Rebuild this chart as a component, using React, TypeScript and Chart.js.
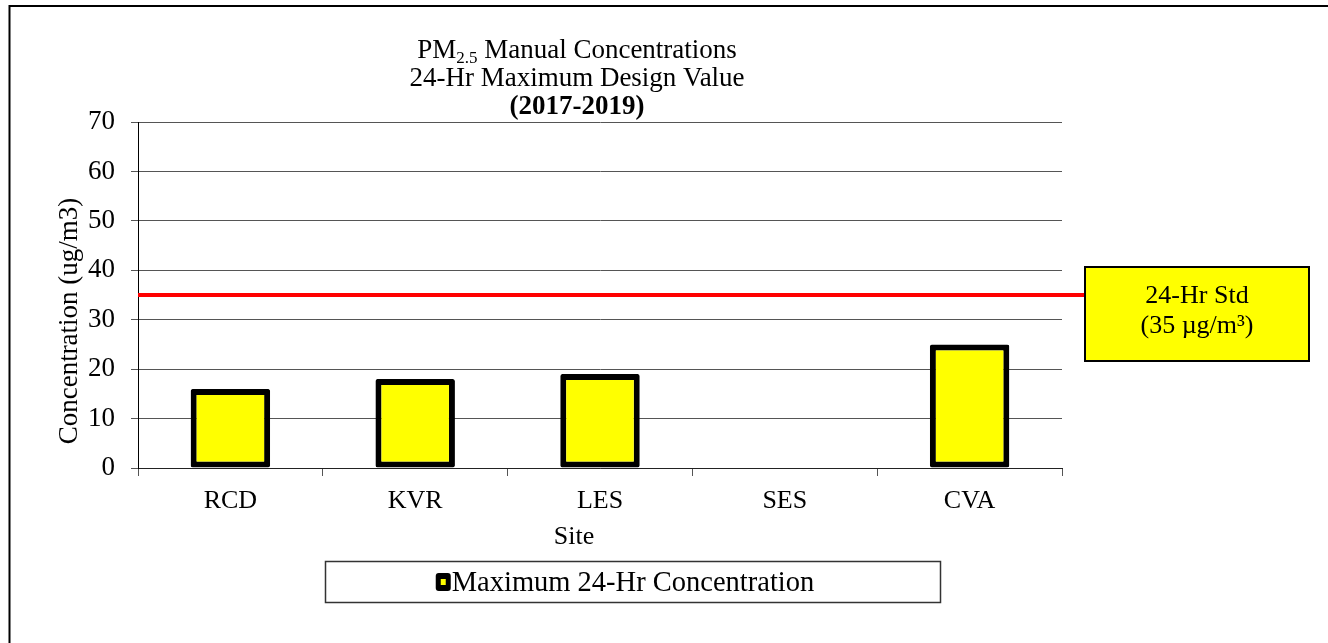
import React, { useEffect, useRef } from "react";
import { Chart, registerables } from "chart.js";

Chart.register(...registerables);

// ---- data ----
const sites: string[] = ["RCD", "KVR", "LES", "SES", "CVA"];
const maxConcentration: (number | null)[] = [16, 18, 19, null, 25];
const standardValue = 35;
const seriesLabel = "Maximum 24-Hr Concentration";
const titleMain = "PM";
const titleSub = "2.5";
const titleRest = " Manual Concentrations";
const titleLine2 = "24-Hr Maximum Design Value";
const titleLine3 = "(2017-2019)";
const yAxisTitle = "Concentration (ug/m3)";
const xAxisTitle = "Site";
const stdLine1 = "24-Hr Std";
const stdLine2 = "(35 µg/m³)";

const FONT = "'Liberation Serif', 'Times New Roman', serif";
const W = 1328;
const H = 643;

const overlayPlugin = {
  id: "overlay",
  afterDraw(chart: any) {
    const ctx: CanvasRenderingContext2D = chart.ctx;
    const area = chart.chartArea;
    const y = chart.scales.y;
    ctx.save();

    // outer frame (top + left edges visible)
    ctx.strokeStyle = "#000";
    ctx.lineWidth = 2;
    ctx.beginPath();
    ctx.moveTo(W, 6);
    ctx.lineTo(9.5, 6);
    ctx.lineTo(9.5, H);
    ctx.stroke();

    // title
    ctx.fillStyle = "#000";
    ctx.textBaseline = "alphabetic";
    const cx = 577;
    ctx.font = `27px ${FONT}`;
    const wMain = ctx.measureText(titleMain).width;
    const wRest = ctx.measureText(titleRest).width;
    ctx.font = `17px ${FONT}`;
    const wSub = ctx.measureText(titleSub).width;
    const total = wMain + wSub + wRest;
    const x0 = cx - total / 2;
    const b1 = area.top - 64;
    ctx.textAlign = "left";
    ctx.font = `27px ${FONT}`;
    ctx.fillText(titleMain, x0, b1);
    ctx.font = `17px ${FONT}`;
    ctx.fillText(titleSub, x0 + wMain, b1 + 5);
    ctx.font = `27px ${FONT}`;
    ctx.fillText(titleRest, x0 + wMain + wSub, b1);
    ctx.textAlign = "center";
    ctx.fillText(titleLine2, cx, area.top - 36);
    ctx.font = `bold 27px ${FONT}`;
    ctx.fillText(titleLine3, cx, area.top - 8);

    // axis titles
    ctx.font = `26px ${FONT}`;
    ctx.fillText(xAxisTitle, 574, area.bottom + 76);
    ctx.font = `27px ${FONT}`;
    ctx.save();
    ctx.translate(77, 321);
    ctx.rotate(-Math.PI / 2);
    ctx.fillText(yAxisTitle, 0, 0);
    ctx.restore();

    // standard line
    const boxL = 1085, boxT = 267, boxW = 224, boxH = 94;
    const ys = y.getPixelForValue(standardValue);
    ctx.strokeStyle = "#FF0000";
    ctx.lineWidth = 4;
    ctx.beginPath();
    ctx.moveTo(area.left, ys);
    ctx.lineTo(boxL, ys);
    ctx.stroke();

    // standard text box
    ctx.fillStyle = "#FFFF00";
    ctx.fillRect(boxL, boxT, boxW, boxH);
    ctx.strokeStyle = "#000";
    ctx.lineWidth = 2;
    ctx.strokeRect(boxL, boxT, boxW, boxH);
    ctx.fillStyle = "#000";
    ctx.font = `26px ${FONT}`;
    ctx.textAlign = "center";
    ctx.fillText(stdLine1, boxL + boxW / 2, 303);
    ctx.fillText(stdLine2, boxL + boxW / 2, 333);

    // legend
    const ds = chart.data.datasets[0];
    ctx.strokeStyle = "#333";
    ctx.lineWidth = 1.5;
    ctx.strokeRect(325.5, 561.5, 615, 41);
    ctx.font = `28.5px ${FONT}`;
    const tw = ctx.measureText(ds.label).width;
    const mk = 15;
    const tx = 633 - tw / 2;
    const lx = tx - mk - 1;
    ctx.fillStyle = ds.borderColor;
    ctx.beginPath();
    (ctx as any).roundRect(lx, 573, mk, 18, 3);
    ctx.fill();
    ctx.fillStyle = ds.backgroundColor;
    ctx.fillRect(lx + 5, 579, 5, 6);
    ctx.fillStyle = "#000";
    ctx.textAlign = "left";
    ctx.fillText(ds.label, tx, 591);

    ctx.restore();
  },
};

export default function App() {
  const ref = useRef<HTMLCanvasElement | null>(null);
  useEffect(() => {
    if (!ref.current) return;
    const chart = new Chart(ref.current, {
      type: "bar",
      data: {
        labels: sites,
        datasets: [
          {
            label: seriesLabel,
            data: maxConcentration,
            backgroundColor: "#FFFF00",
            borderColor: "#000000",
            borderWidth: 6,
            borderSkipped: false,
            borderRadius: 2,
            categoryPercentage: 1,
            barPercentage: 0.43,
          },
        ],
      },
      options: {
        animation: false,
        responsive: false,
        devicePixelRatio: 1,
        layout: { padding: { left: 0, top: 122, right: W - 1062, bottom: H - 468 - 60 } },
        plugins: {
          legend: { display: false },
          title: { display: false },
          tooltip: { enabled: false },
        },
        scales: {
          x: {
            afterFit: (s: any) => { s.height = 60; },
            grid: { drawOnChartArea: false, drawTicks: true, tickLength: 8, color: "#555", offset: true },
            border: { color: "#222", width: 1 },
            ticks: { color: "#000", font: { family: FONT, size: 26 }, padding: 10 },
          },
          y: {
            min: 0,
            max: 70,
            afterFit: (s: any) => { s.width = 138; },
            ticks: { stepSize: 10, color: "#000", font: { family: FONT, size: 27 }, padding: 16 },
            grid: { color: "#555", tickLength: 7, drawTicks: true },
            border: { color: "#000", width: 1 },
          },
        },
      },
      plugins: [overlayPlugin],
    });
    return () => chart.destroy();
  }, []);
  return (
    <div style={{ position: "fixed", left: 0, top: 0, width: W, height: H, background: "#fff" }}>
      <canvas ref={ref} width={W} height={H} style={{ display: "block", width: W, height: H }} />
    </div>
  );
}
